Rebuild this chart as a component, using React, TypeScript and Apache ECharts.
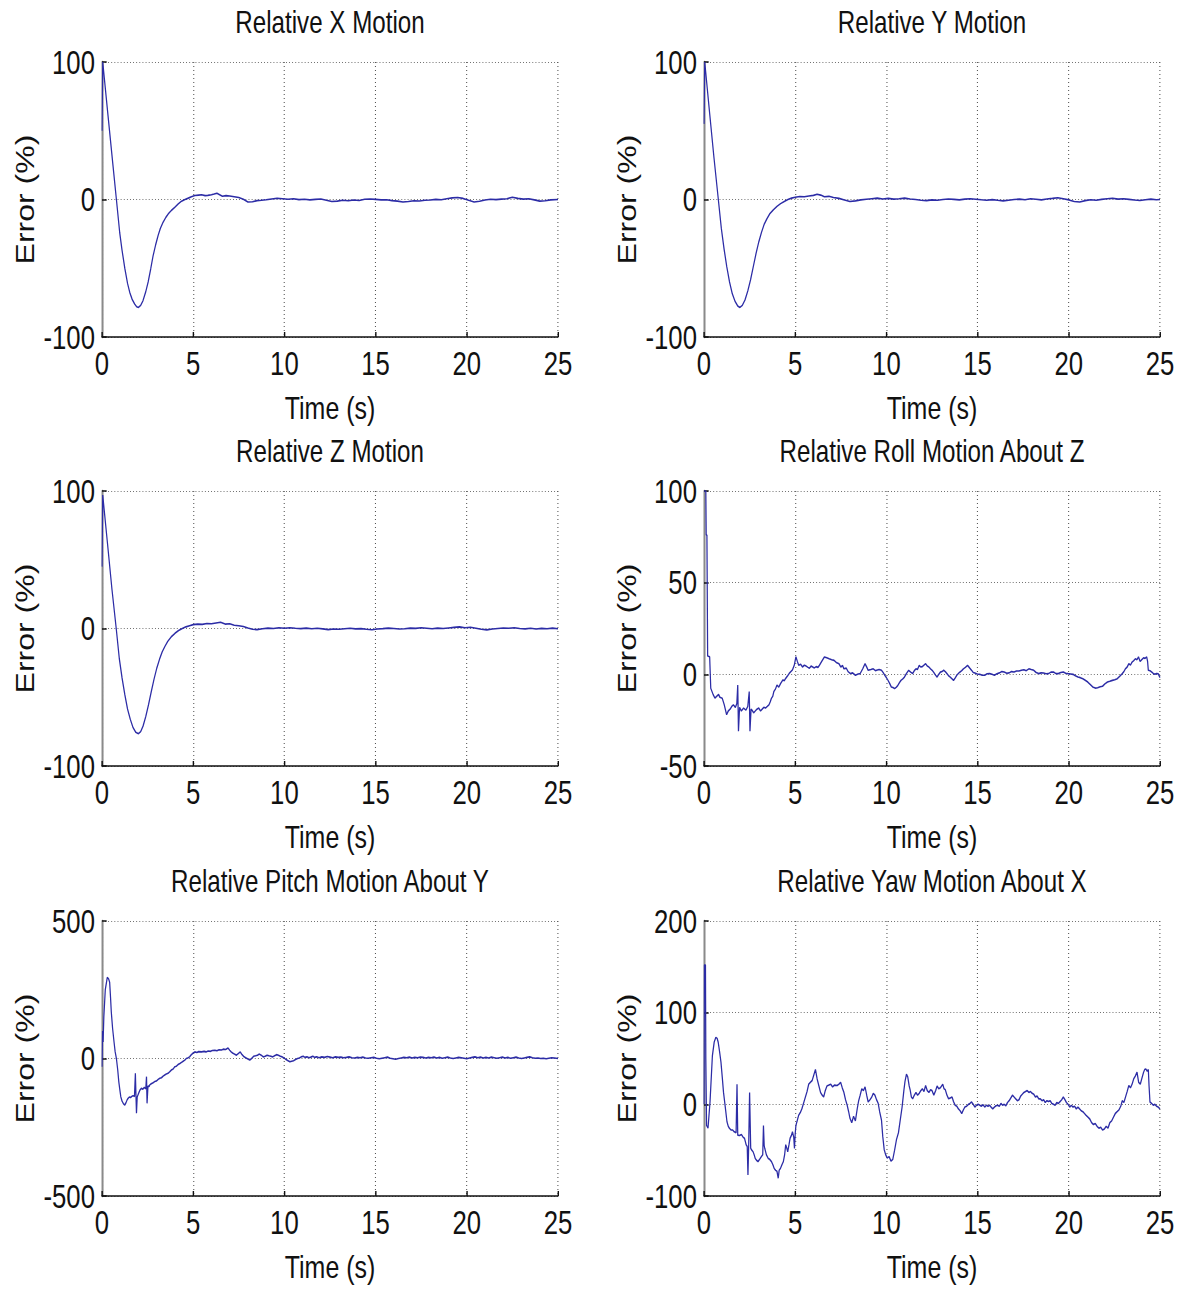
import React, { useEffect, useRef } from "react";
import * as echarts from "echarts";

// ---------- data ----------
const panelTitles = [
  "Relative X Motion",
  "Relative Y Motion",
  "Relative Z Motion",
  "Relative Roll Motion About Z",
  "Relative Pitch Motion About Y",
  "Relative Yaw Motion About X",
];

const timeMin = 0;
const timeMax = 25;
const timeStep = 5;

// [min, max, interval] of Error (%) for each panel
const errorRanges = [
  [-100, 100, 100],
  [-100, 100, 100],
  [-100, 100, 100],
  [-50, 100, 50],
  [-500, 500, 500],
  [-100, 200, 100],
];

// [time (s), error (%)]
const xMotion = [
  [0, 50], [0.04, 100], [0.33, 61], [0.6, 25], [0.79, 0], [0.97, -24], [1.1, -37], [1.25, -50], [1.4, -61],
  [1.52, -67.5], [1.65, -72.5], [1.79, -76], [1.9, -78], [2.0, -78.5], [2.12, -77], [2.25, -73.5], [2.4, -67],
  [2.53, -60], [2.67, -50.5], [2.8, -41], [2.94, -33], [3.08, -26], [3.2, -21], [3.35, -16.5], [3.5, -13],
  [3.63, -10.5], [3.8, -8], [4.0, -5.6], [4.18, -3.2], [4.36, -1.2], [4.55, 0], [4.73, 1], [4.9, 2], [5.09, 2.9],
  [5.3, 3.2], [5.46, 3.4], [5.65, 2.8], [5.8, 3], [6.0, 3.5], [6.15, 4], [6.3, 4.6], [6.45, 3.5], [6.6, 2.4],
  [6.8, 2.8], [7.0, 2.6], [7.25, 2], [7.5, 1.4], [7.75, 0.2], [8.0, -1.8], [8.25, -1.6], [8.5, -0.8], [8.75, -0.6],
  [9.0, -0.2], [9.3, 0.4], [9.6, 0.9], [9.9, 0.6], [10.2, 0.2], [10.5, 0.5], [10.8, -0.1], [11.1, 0.2], [11.4, -0.3],
  [11.7, 0.1], [12.0, 0.4], [12.3, -0.6], [12.6, -1.5], [12.9, -1.2], [13.2, -0.6], [13.5, -0.9], [13.8, -0.4],
  [14.1, -0.7], [14.4, 0.2], [14.7, 0.4], [15.0, 0.1], [15.3, -0.3], [15.6, -0.2], [15.9, -0.8], [16.2, -1.2],
  [16.5, -1.8], [16.8, -1.4], [17.1, -0.9], [17.4, -1.1], [17.7, -0.6], [18.0, -0.4], [18.3, 0.1], [18.6, -0.2],
  [18.9, 0.5], [19.2, 1.2], [19.5, 1.5], [19.8, 0.8], [20.1, -0.6], [20.4, -1.8], [20.7, -1.3], [21.0, -0.4],
  [21.3, 0.2], [21.6, -0.1], [21.9, 0.3], [22.2, 0.6], [22.5, 1.6], [22.8, 0.8], [23.1, 0.3], [23.4, 0.5],
  [23.7, -0.3], [24.0, -1.2], [24.3, -0.9], [24.6, -0.3], [25.0, 0],
];

const yMotion = [
  [0, 55], [0.04, 100], [0.3, 64], [0.55, 30], [0.77, 2], [0.95, -21], [1.1, -36], [1.25, -49], [1.4, -60],
  [1.55, -68.5], [1.7, -74], [1.85, -77.5], [1.97, -78.5], [2.1, -77], [2.25, -73], [2.4, -66.5], [2.55, -58.5],
  [2.7, -49], [2.85, -39.5], [3.0, -31], [3.15, -24], [3.3, -18], [3.45, -14], [3.6, -10.5], [3.8, -7.5], [4.0, -5],
  [4.2, -3], [4.4, -1.5], [4.6, 0], [4.8, 1], [5.0, 1.6], [5.25, 2.2], [5.5, 2], [5.75, 2.5], [6.0, 3], [6.2, 3.8],
  [6.4, 3.2], [6.6, 2], [6.85, 2.3], [7.1, 1.5], [7.4, 0.8], [7.7, -0.4], [8.0, -1.4], [8.3, -1], [8.6, -0.3],
  [8.9, 0.2], [9.2, 0.6], [9.5, 1], [9.8, 0.4], [10.1, 0.8], [10.4, 0.3], [10.7, 0.6], [11.0, 1], [11.3, 0.4],
  [11.6, 0], [11.9, -0.5], [12.2, -0.8], [12.5, -0.3], [12.8, -0.6], [13.1, 0], [13.4, 0.4], [13.7, 0.1],
  [14.0, -0.3], [14.3, 0.3], [14.6, 0.6], [14.9, 0.2], [15.2, -0.2], [15.5, -0.5], [15.8, -0.1], [16.1, -0.6],
  [16.4, -1], [16.7, -0.5], [17.0, 0], [17.3, 0.3], [17.6, -0.2], [17.9, 0.5], [18.2, 0.2], [18.5, -0.3],
  [18.8, 0.4], [19.1, 0.8], [19.4, 1.3], [19.7, 0.6], [20.0, -0.3], [20.3, -1.5], [20.6, -1.8], [20.9, -0.8],
  [21.2, -0.2], [21.5, -0.5], [21.8, 0.1], [22.1, 0.5], [22.4, 0.9], [22.7, 0.3], [23.0, 0.6], [23.3, 0.1],
  [23.6, -0.4], [23.9, -0.7], [24.2, -0.2], [24.5, 0.3], [24.8, -0.2], [25, 0],
];

const zMotion = [
  [0, 45], [0.04, 97], [0.3, 62], [0.55, 28], [0.78, 0], [0.95, -22], [1.1, -36], [1.25, -48], [1.4, -58.5],
  [1.55, -66], [1.7, -72], [1.85, -75.5], [2.0, -76.5], [2.12, -75], [2.25, -71], [2.4, -64], [2.55, -55.5],
  [2.7, -46], [2.85, -37], [3.0, -29], [3.15, -22.5], [3.3, -17], [3.45, -13], [3.6, -9.5], [3.8, -6], [4.0, -3.5],
  [4.2, -1.5], [4.4, 0], [4.6, 1.2], [4.8, 2], [5.0, 2.8], [5.25, 3.2], [5.5, 3], [5.75, 3.6], [6.0, 3.4],
  [6.25, 4], [6.5, 4.6], [6.75, 3.2], [7.0, 3.5], [7.25, 2.4], [7.5, 2], [7.75, 1.5], [8.0, 0.4], [8.25, -0.6],
  [8.5, -0.8], [8.8, -0.2], [9.1, 0.3], [9.4, 0], [9.7, 0.5], [10.0, 0.2], [10.3, 0.6], [10.6, 0.2], [10.9, -0.1],
  [11.2, 0.3], [11.5, -0.2], [11.8, 0.2], [12.1, -0.3], [12.4, -0.8], [12.7, -0.4], [13.0, -0.6], [13.3, -0.2],
  [13.6, 0.2], [13.9, -0.3], [14.2, -0.1], [14.5, -0.6], [14.8, -0.9], [15.1, -0.4], [15.4, -0.1], [15.7, 0.3],
  [16.0, 0], [16.3, -0.4], [16.6, -0.2], [16.9, 0.3], [17.2, 0.1], [17.5, 0.5], [17.8, 0.2], [18.1, -0.2],
  [18.4, 0.3], [18.7, 0], [19.0, 0.4], [19.3, 0.8], [19.6, 1.2], [19.9, 0.6], [20.2, 0.9], [20.5, 0.2],
  [20.8, -0.6], [21.1, -1], [21.4, -0.4], [21.7, 0], [22.0, 0.4], [22.3, 0.2], [22.6, 0.5], [22.9, 0],
  [23.2, -0.3], [23.5, 0.2], [23.8, -0.4], [24.1, 0.1], [24.4, -0.2], [24.7, 0.3], [25, -0.2],
];

const rollMotion = [
  [0, 100], [0.1, 100], [0.12, 76], [0.16, 76], [0.2, 10], [0.31, 9.6], [0.37, -7.6], [0.5, -11], [0.6, -13],
  [0.69, -12], [0.8, -11], [0.87, -12.5], [1.0, -13], [1.11, -16.6], [1.24, -22], [1.33, -20], [1.43, -19],
  [1.52, -17.5], [1.61, -16.6], [1.72, -18], [1.8, -16], [1.85, -5.8], [1.89, -31], [1.95, -18], [2.05, -20],
  [2.17, -18.4], [2.3, -19.5], [2.4, -17.5], [2.48, -9.4], [2.52, -31], [2.58, -19], [2.63, -19.5], [2.72, -21],
  [2.81, -20], [2.9, -19], [3.0, -18.4], [3.1, -20], [3.19, -19], [3.28, -18], [3.37, -18.4], [3.47, -17.5],
  [3.56, -16.6], [3.63, -15], [3.7, -13], [3.77, -12], [3.83, -9.4], [3.92, -8], [4.0, -5.8], [4.1, -7], [4.2, -5],
  [4.33, -3], [4.4, -3.5], [4.48, -2.2], [4.57, -1], [4.67, 0.5], [4.76, 1.5], [4.85, 2.4], [4.95, 5], [5.04, 9.6],
  [5.12, 7], [5.19, 5], [5.3, 5.5], [5.4, 4], [5.5, 5], [5.6, 4.5], [5.7, 3.8], [5.78, 3.3], [5.87, 4.5], [5.96, 4],
  [6.05, 3.5], [6.15, 4.2], [6.25, 3.8], [6.33, 5], [6.45, 7], [6.6, 9.5], [6.73, 9], [6.86, 8.5], [7.0, 8],
  [7.13, 7.6], [7.25, 6.5], [7.4, 5.8], [7.5, 4], [7.6, 4.8], [7.67, 3], [7.8, 3.4], [7.9, 1.5], [8.03, 0.4],
  [8.15, 0.8], [8.3, -0.5], [8.45, 0.2], [8.56, 0.4], [8.7, 3], [8.83, 5.8], [8.92, 4], [9.0, 2.2], [9.15, 2.6],
  [9.28, 3], [9.4, 2], [9.46, 2.2], [9.6, 2.6], [9.73, 2.2], [9.82, 1], [9.91, -0.5], [10.0, -1.8], [10.09, -3.3],
  [10.18, -5], [10.27, -6.9], [10.36, -7.2], [10.45, -7.8], [10.55, -7], [10.63, -6], [10.72, -4.5], [10.8, -3.3],
  [10.9, -2.5], [10.99, -1.5], [11.1, 0.5], [11.22, 2.2], [11.33, 1.2], [11.44, 0.5], [11.53, 2], [11.62, 3],
  [11.7, 2.6], [11.8, 4.9], [11.88, 4], [11.97, 4.2], [12.06, 5], [12.15, 5.8], [12.24, 4.5], [12.33, 4],
  [12.42, 3], [12.51, 2.2], [12.6, 1], [12.7, -0.5], [12.78, -1.5], [12.87, 0], [12.96, 1.2], [13.05, 1.5],
  [13.14, 2.2], [13.23, 1.5], [13.32, 0.4], [13.41, -0.8], [13.5, -1.5], [13.6, -2.5], [13.68, -3.3], [13.77, -2],
  [13.86, -0.5], [13.95, 0.5], [14.04, 1.3], [14.13, 2], [14.22, 3], [14.33, 3.8], [14.45, 4.9], [14.56, 3.5],
  [14.67, 2.2], [14.76, 1], [14.85, 0.7], [14.98, 0.2], [15.12, 0], [15.25, -0.5], [15.39, -0.5], [15.52, 0.3],
  [15.66, 0.4], [15.79, 0], [15.92, -0.5], [16.06, 0.3], [16.2, 0.8], [16.33, 1.5], [16.46, 1.3], [16.6, 0.6],
  [16.73, 0.8], [16.86, 1.5], [17.0, 1.3], [17.13, 1.8], [17.27, 1.8], [17.4, 2.2], [17.54, 2.5], [17.67, 2],
  [17.81, 3], [17.94, 2.6], [18.08, 2.2], [18.21, 1], [18.35, 0.4], [18.48, 0.8], [18.62, 0.7], [18.75, 0.3],
  [18.89, 0.4], [19.02, 1.2], [19.16, 1.3], [19.3, 0.4], [19.43, 0.4], [19.56, 1], [19.7, 1.3], [19.83, 0.6],
  [19.96, 0.4], [20.1, 0.2], [20.23, 0], [20.36, -0.8], [20.5, -1.5], [20.63, -1.8], [20.77, -2.4], [20.9, -3.2],
  [21.04, -4.2], [21.17, -5.5], [21.31, -6.9], [21.45, -7.5], [21.58, -7.3], [21.72, -6.8], [21.85, -6.5],
  [21.98, -5.2], [22.12, -4.2], [22.25, -3.8], [22.39, -3.3], [22.52, -3], [22.66, -2.4], [22.8, -1], [22.93, 0.4],
  [23.02, 1.5], [23.1, 3], [23.2, 4], [23.29, 5.8], [23.38, 5], [23.47, 6.7], [23.56, 7.5], [23.65, 8.5],
  [23.74, 8], [23.82, 9.5], [23.91, 7], [24.0, 8], [24.1, 9], [24.18, 8.7], [24.27, 9.5], [24.32, 7], [24.36, 2.2],
  [24.45, 2], [24.54, 1.3], [24.63, 0.5], [24.72, 0], [24.81, 0.5], [24.9, 0.3], [25, -1.8],
];

const pitchMotion = [
  [0, -30], [0.03, 100], [0.06, 60], [0.1, 150], [0.18, 250], [0.29, 295], [0.36, 290], [0.42, 277], [0.47, 220],
  [0.51, 169], [0.58, 110], [0.66, 60], [0.72, 25], [0.79, 0], [0.86, -40], [0.92, -84], [0.98, -115], [1.03, -139],
  [1.1, -155], [1.18, -165], [1.25, -169], [1.32, -160], [1.38, -150], [1.43, -145], [1.5, -140], [1.56, -142],
  [1.61, -139], [1.7, -135], [1.78, -138], [1.83, -54], [1.86, -130], [1.89, -199], [1.93, -140], [2.0, -128],
  [2.08, -115], [2.16, -108], [2.24, -112], [2.32, -105], [2.4, -110], [2.44, -66], [2.47, -163], [2.52, -100],
  [2.58, -102], [2.62, -96], [2.7, -92], [2.8, -88], [2.89, -84], [2.98, -82], [3.08, -76], [3.17, -72],
  [3.26, -70], [3.35, -64], [3.44, -60], [3.53, -56], [3.62, -54], [3.72, -48], [3.8, -42], [3.9, -38],
  [3.99, -30], [4.08, -28], [4.17, -22], [4.27, -18], [4.36, -14], [4.45, -10], [4.54, -6], [4.62, 0], [4.7, 2],
  [4.8, 6], [4.9, 14], [5.0, 20], [5.09, 24], [5.2, 22], [5.3, 25], [5.46, 24], [5.6, 26], [5.7, 24], [5.82, 27],
  [5.95, 26], [6.05, 29], [6.19, 30], [6.3, 28], [6.42, 32], [6.55, 31], [6.65, 34], [6.78, 33], [6.91, 38],
  [7.0, 30], [7.08, 24], [7.16, 20], [7.26, 16], [7.37, 12], [7.47, 18], [7.58, 24], [7.68, 14], [7.79, 6],
  [7.9, 2], [8.0, -2], [8.1, -6], [8.2, 0], [8.31, 8], [8.42, 10], [8.52, 12], [8.63, 16], [8.73, 12], [8.84, 6],
  [8.95, 8], [9.05, 12], [9.15, 10], [9.26, 8], [9.36, 6], [9.46, 10], [9.57, 14], [9.67, 12], [9.78, 8],
  [9.88, 6], [9.98, 2], [10.09, -4], [10.2, -8], [10.3, -12], [10.4, -10], [10.5, -8], [10.61, -4], [10.72, 0],
  [10.82, 2], [10.92, 6], [11.03, 8], [11.13, 4], [11.24, 6], [11.35, 3], [11.45, 5], [11.56, 8], [11.66, 4],
  [11.77, 6], [11.9, 3], [12.05, 6], [12.2, 4], [12.35, 7], [12.5, 5], [12.65, 3], [12.8, 6], [12.95, 4],
  [13.1, 5], [13.25, 3], [13.4, 4], [13.55, 6], [13.7, 3], [13.85, 2], [14.0, 4], [14.15, 3], [14.3, 5],
  [14.45, 2], [14.6, 1], [14.75, 3], [14.9, 4], [15.05, 1], [15.2, -1], [15.35, 1], [15.5, 3], [15.65, 5],
  [15.8, 1], [15.95, -1], [16.1, -3], [16.25, 0], [16.4, 2], [16.55, 4], [16.7, 3], [16.85, 5], [17.0, 2],
  [17.15, 4], [17.3, 3], [17.45, 5], [17.6, 4], [17.75, 2], [17.9, 4], [18.05, 3], [18.2, 5], [18.35, 2],
  [18.5, 4], [18.65, 1], [18.8, 3], [18.95, 5], [19.1, 2], [19.25, 0], [19.4, 2], [19.55, 4], [19.7, 3],
  [19.85, 1], [20.0, -1], [20.15, 2], [20.3, 4], [20.45, 6], [20.6, 3], [20.75, 5], [20.9, 2], [21.05, 4],
  [21.2, 2], [21.35, 5], [21.5, 3], [21.65, 1], [21.8, 3], [21.95, 5], [22.1, 2], [22.25, 4], [22.4, 1],
  [22.55, 3], [22.7, 5], [22.85, 2], [23.0, 0], [23.15, 2], [23.3, 4], [23.45, 6], [23.6, 3], [23.75, 1],
  [23.9, 2], [24.05, 0], [24.2, 1], [24.35, -1], [24.5, 1], [24.65, 3], [24.8, 2], [25, 0],
];

const yawMotion = [
  [0, 0], [0.02, 152], [0.08, 152], [0.1, 49.5], [0.14, -23], [0.22, -26], [0.33, 2.5], [0.46, 53], [0.56, 68],
  [0.65, 73], [0.72, 72], [0.78, 67.6], [0.85, 58], [0.93, 46], [1.0, 30], [1.07, 13], [1.16, -2], [1.26, -19],
  [1.33, -24], [1.39, -26], [1.48, -28], [1.57, -28], [1.66, -30], [1.76, -31], [1.81, 22], [1.85, -33.6],
  [1.95, -34], [2.05, -33], [2.15, -36], [2.22, -37], [2.31, -44], [2.37, -46], [2.41, -77], [2.45, -45],
  [2.5, 13], [2.56, -48], [2.62, -50], [2.69, -51.7], [2.75, -55], [2.81, -59], [2.88, -61], [2.96, -62.5],
  [3.05, -60], [3.15, -57], [3.22, -55], [3.26, -23], [3.3, -45], [3.33, -48], [3.42, -55], [3.52, -59],
  [3.6, -60], [3.7, -62.5], [3.78, -66], [3.85, -70], [3.93, -72], [4.0, -73], [4.07, -80.6], [4.12, -72],
  [4.19, -70], [4.27, -66], [4.35, -62.5], [4.42, -55], [4.48, -44], [4.54, -48], [4.59, -51.7], [4.66, -44],
  [4.72, -37], [4.79, -34], [4.85, -30], [4.92, -36], [4.96, -48], [5.0, -32], [5.04, -23], [5.12, -17],
  [5.19, -12], [5.28, -9], [5.37, -4.7], [5.47, 2], [5.56, 8], [5.65, 14], [5.74, 22], [5.83, 24], [5.93, 26],
  [6.02, 32], [6.11, 38], [6.2, 28], [6.3, 20], [6.39, 13], [6.48, 10], [6.56, 8], [6.65, 15], [6.74, 20],
  [6.85, 21], [6.95, 22], [7.05, 19], [7.15, 21], [7.3, 20.6], [7.4, 22], [7.49, 24], [7.58, 18], [7.67, 13],
  [7.76, 5], [7.85, -1], [7.93, -8], [8.0, -15], [8.1, -20], [8.2, -13], [8.3, -18], [8.4, -5], [8.48, 4],
  [8.56, 10], [8.65, 17], [8.74, 15], [8.83, 19], [8.92, 10], [9.0, 2.5], [9.1, 5], [9.2, 8], [9.28, 12],
  [9.37, 10], [9.46, 5], [9.55, 1], [9.63, -8], [9.73, -17], [9.8, -35], [9.88, -49.5], [9.96, -55],
  [10.04, -58.5], [10.15, -57], [10.25, -62], [10.35, -60], [10.45, -50], [10.55, -38.7], [10.66, -31],
  [10.76, -17], [10.86, -3], [10.96, 15.5], [11.02, 25], [11.1, 33], [11.17, 30], [11.25, 20], [11.3, 16],
  [11.37, 8], [11.44, 6], [11.53, 10], [11.62, 13], [11.71, 10], [11.8, 12], [11.89, 15], [11.97, 17],
  [12.06, 14], [12.15, 20.6], [12.24, 15], [12.33, 13], [12.42, 16], [12.5, 15], [12.6, 10], [12.7, 15],
  [12.78, 20], [12.87, 17], [12.96, 18], [13.09, 22], [13.16, 17], [13.23, 16], [13.32, 10], [13.41, 6],
  [13.5, 7], [13.6, 8], [13.68, 3], [13.77, -1], [13.86, -2], [13.95, -5], [14.04, -7], [14.13, -10], [14.22, -6],
  [14.3, -3], [14.4, -2], [14.5, 0], [14.58, 1], [14.67, 2.5], [14.76, 0], [14.85, -3], [14.94, -1], [15.03, 0],
  [15.12, -1], [15.21, -2], [15.3, -0.5], [15.39, -3], [15.48, -1], [15.57, -2], [15.66, -1], [15.74, -3],
  [15.83, -5], [15.92, -3], [16.01, -1.5], [16.1, -1], [16.19, -2], [16.28, 1], [16.37, -1], [16.46, 0],
  [16.55, -1.5], [16.64, 2], [16.73, 4], [16.82, 7], [16.91, 10], [17.0, 8], [17.09, 6], [17.18, 4], [17.27, 5],
  [17.36, 9], [17.45, 11], [17.54, 13], [17.63, 14], [17.72, 15], [17.81, 13], [17.9, 14], [17.99, 12],
  [18.08, 11], [18.17, 8], [18.26, 9], [18.35, 6], [18.44, 6], [18.53, 4], [18.62, 5], [18.71, 2], [18.8, 4],
  [18.89, 3], [18.98, 4], [19.07, 1], [19.16, 0], [19.25, -1], [19.34, 2], [19.43, 1], [19.52, 3], [19.61, 5],
  [19.7, 8], [19.79, 5], [19.87, 2], [19.96, 0], [20.05, -3], [20.14, -1], [20.23, -3], [20.32, -2], [20.41, -5],
  [20.5, -3], [20.59, -5], [20.68, -7], [20.77, -8], [20.86, -10], [20.95, -12], [21.05, -14], [21.15, -16],
  [21.25, -20], [21.35, -22], [21.45, -21], [21.55, -24], [21.65, -26], [21.75, -25], [21.85, -28], [21.95, -27],
  [22.05, -24], [22.15, -26], [22.25, -20], [22.35, -18], [22.45, -14], [22.55, -10], [22.65, -8], [22.75, -6],
  [22.85, -2], [22.93, 4], [23.02, 2], [23.11, 8], [23.2, 14], [23.29, 20.6], [23.38, 18], [23.47, 22],
  [23.56, 28], [23.65, 31], [23.74, 35], [23.83, 24], [23.92, 22], [24.0, 28], [24.1, 35], [24.16, 38],
  [24.22, 38.7], [24.3, 36], [24.36, 38], [24.4, 20], [24.45, 2.5], [24.54, 1], [24.63, -1], [24.72, 0],
  [24.81, -2], [24.9, -3], [25, -5],
];

const panelData = [xMotion, yMotion, zMotion, rollMotion, pitchMotion, yawMotion];

// ---------- layout / style ----------
// The reference figure is horizontally squeezed; the chart is laid out on a wider
// canvas and compressed with a CSS scaleX so the glyphs get the same narrow look.
const PAGE_W = 1186;
const PAGE_H = 1290;
const INNER_W = 1521;
const SX = PAGE_W / INNER_W;

const plotBoxes = [
  { left: 102, top: 62 },
  { left: 704, top: 62 },
  { left: 102, top: 491 },
  { left: 704, top: 491 },
  { left: 102, top: 921 },
  { left: 704, top: 921 },
];
const PLOT_W = 456;
const PLOT_H = 275;

const FONT = "'Liberation Sans', Arial, Helvetica, sans-serif";
const TEXT = "#111111";
const LINE = "#2c2ca6";

function buildOption() {
  const gridLine = { show: true, lineStyle: { type: [1, 3], color: "#333333", width: 1 } };
  return {
    animation: false,
    backgroundColor: "#ffffff",
    title: panelTitles.map((text, i) => ({
      text,
      left: (plotBoxes[i].left + PLOT_W / 2) / SX,
      top: plotBoxes[i].top - 55,
      textAlign: "center",
      padding: 0,
      textStyle: { fontFamily: FONT, fontSize: 31, fontWeight: "normal", color: TEXT },
    })),
    grid: plotBoxes.map((b) => ({ left: b.left / SX, top: b.top, width: PLOT_W / SX, height: PLOT_H })),
    xAxis: plotBoxes.map((_, i) => ({
      type: "value",
      gridIndex: i,
      min: timeMin,
      max: timeMax,
      interval: timeStep,
      name: "Time (s)",
      nameLocation: "middle",
      nameGap: 55,
      nameTextStyle: { fontFamily: FONT, fontSize: 32, color: TEXT },
      axisLine: { onZero: false, lineStyle: { color: "#111", width: 1.6 } },
      axisTick: { inside: true, length: 5, lineStyle: { color: "#111", width: 1.8 } },
      axisLabel: { margin: 10, fontFamily: FONT, fontSize: 33, color: TEXT },
      splitLine: gridLine,
    })),
    yAxis: plotBoxes.map((_, i) => ({
      type: "value",
      gridIndex: i,
      min: errorRanges[i][0],
      max: errorRanges[i][1],
      interval: errorRanges[i][2],
      name: "Error (%)",
      nameLocation: "middle",
      nameRotate: 90,
      nameGap: 83,
      nameTextStyle: { fontFamily: FONT, fontSize: 32, color: TEXT },
      axisLine: { onZero: false, lineStyle: { color: "#8a8a8a", width: 2.6 } },
      axisTick: { inside: true, length: 6, lineStyle: { color: "#111", width: 1.5 } },
      axisLabel: { margin: 9, fontFamily: FONT, fontSize: 33, color: TEXT },
      splitLine: gridLine,
    })),
    series: panelData.map((d, i) => ({
      type: "line",
      xAxisIndex: i,
      yAxisIndex: i,
      data: d,
      showSymbol: false,
      symbol: "none",
      silent: true,
      clip: true,
      lineStyle: { color: LINE, width: 1.6 },
    })),
  };
}

export default function App() {
  const ref = useRef<HTMLDivElement | null>(null);
  useEffect(() => {
    if (!ref.current) return;
    const chart = echarts.init(ref.current, null, { renderer: "svg" });
    chart.setOption(buildOption() as any);
    return () => chart.dispose();
  }, []);
  return (
    <div
      style={{
        position: "absolute",
        left: 0,
        top: 0,
        width: PAGE_W,
        height: PAGE_H,
        overflow: "hidden",
        background: "#fff",
      }}
    >
      <div
        ref={ref}
        style={{
          width: INNER_W,
          height: PAGE_H,
          transform: `scaleX(${SX})`,
          transformOrigin: "0 0",
        }}
      />
    </div>
  );
}
